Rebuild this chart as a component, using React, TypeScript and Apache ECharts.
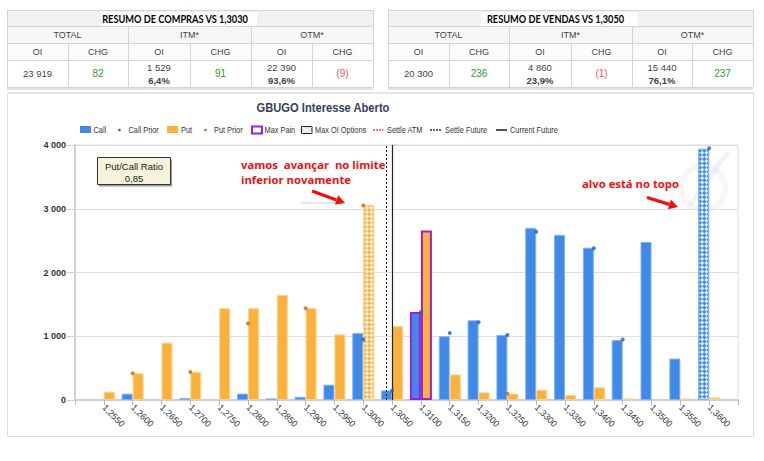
import React, { useEffect, useRef } from 'react';
import * as echarts from 'echarts';

// ---------- data ----------
const strikes = [1.255, 1.26, 1.265, 1.27, 1.275, 1.28, 1.285, 1.29, 1.295, 1.3, 1.305, 1.31, 1.315, 1.32, 1.325, 1.33, 1.335, 1.34, 1.345, 1.35, 1.355, 1.36];
const callOI = [0, 100, 0, 30, 0, 100, 25, 50, 240, 1050, 150, 1380, 1000, 1250, 1020, 2700, 2590, 2390, 940, 2480, 650, 3940];
const putOI = [130, 420, 900, 440, 1440, 1440, 1650, 1440, 1030, 3060, 1160, 2660, 400, 120, 100, 160, 80, 200, 25, 0, 25, 40];
const callPrior = [null, null, null, null, null, null, null, null, null, 950, 150, 1380, 1050, 1220, 1020, 2640, null, 2380, 950, null, null, 3950];
const putPrior = [null, 420, null, 440, null, 1200, null, 1440, null, 3050, null, null, null, null, 100, null, null, null, null, null, null, null];
const maxPainStrike = 1.31;
const maxOICallStrike = 1.36;
const maxOIPutStrike = 1.3;
const settleFuture = 1.305;
const currentFuture = 1.306;
const xMin = 1.25;
const xMax = 1.365;
const xStep = 0.005;
const yMax = 4000;
const yStep = 1000;
const putCallRatio = '0,85';

const tableGroups = ['TOTAL', 'ITM*', 'OTM*'];
const tableSubHeads = ['OI', 'CHG'];
const buyTitle = 'RESUMO DE COMPRAS VS 1,3030';
const buyOI = ['23 919', '1 529', '22 390'];
const buyPct = ['', '6,4%', '93,6%'];
const buyChg = ['82', '91', '(9)'];
const sellTitle = 'RESUMO DE VENDAS VS 1,3050';
const sellOI = ['20 300', '4 860', '15 440'];
const sellPct = ['', '23,9%', '76,1%'];
const sellChg = ['236', '(1)', '237'];

const legendNames = ['Call', 'Call Prior', 'Put', 'Put Prior', 'Max Pain', 'Max OI Options', 'Settle ATM', 'Settle Future', 'Current Future'];

// ---------- helpers ----------
const K = (s: number) => Math.round(s * 10000);
const CALL = '#3f89e8';
const PUT = '#fbb13c';
const FONT = "'Liberation Sans', Arial, sans-serif";

const txt = (x: number, y: number, text: string, font: string, fill: string, align = 'center', valign = 'middle', z = 10, scaleX = 1) => ({
  type: 'text', x, y, z, silent: true, scaleX,
  style: { text, font, fill, textAlign: align, textVerticalAlign: valign, align, verticalAlign: valign },
});
const rect = (x: number, y: number, w: number, h: number, style: any, z = 1) => ({
  type: 'rect', z, silent: true, shape: { x, y, width: w, height: h }, style,
});
const line = (x1: number, y1: number, x2: number, y2: number, style: any, z = 2) => ({
  type: 'line', z, silent: true, shape: { x1, y1, x2, y2 }, style,
});

const hatch = (color: string) => ({
  color,
  decal: {
    symbol: 'rect',
    symbolSize: 1,
    dashArrayX: [[2.5, 2.5], [0, 2.5, 2.5, 0]],
    dashArrayY: [2.5, 0],
    rotation: Math.PI / 4,
    color: 'rgba(255,255,255,0.85)',
  },
});

function buildTable(cols: number[], title: string, oi: string[], pct: string[], chg: string[]) {
  const rows = [10, 26, 43, 60, 87];
  const els: any[] = [];
  const fills = ['#f1f1f1', '#f6f6f6', '#fbfbfb', '#ffffff'];
  for (let r = 0; r < 4; r++) {
    els.push(rect(cols[0], rows[r], cols[6] - cols[0], rows[r + 1] - rows[r], { fill: fills[r] }, 1));
  }
  els.push(rect(cols[0], 88, cols[6] - cols[0], 2, { fill: '#e2e2e2' }, 1));
  const lc = { stroke: '#d4d4d4', lineWidth: 1 };
  rows.forEach((y) => els.push(line(cols[0], y + 0.5, cols[6], y + 0.5, lc)));
  [cols[0], cols[6]].forEach((x) => els.push(line(x + 0.5, rows[0], x + 0.5, rows[4], lc)));
  [cols[2], cols[4]].forEach((x) => els.push(line(x + 0.5, rows[1], x + 0.5, rows[4], lc)));
  [cols[1], cols[3], cols[5]].forEach((x) => els.push(line(x + 0.5, rows[2], x + 0.5, rows[4], lc)));
  const c = (cols[0] + cols[6]) / 2;
  els.push(rect(c - 89, 12, 156, 14, { fill: '#ffffff' }, 3));
  els.push(txt(c - 15, 18.5, title, "bold 10.5px Lato, 'Liberation Sans', sans-serif", '#000', 'center', 'middle', 10, 0.88));
  for (let g = 0; g < 3; g++) {
    const gx = (cols[g * 2] + cols[g * 2 + 2]) / 2;
    els.push(txt(gx, 35, tableGroups[g], `9px ${FONT}`, '#444'));
    const oiX = (cols[g * 2] + cols[g * 2 + 1]) / 2;
    const chX = (cols[g * 2 + 1] + cols[g * 2 + 2]) / 2;
    els.push(txt(oiX, 52, tableSubHeads[0], `9px ${FONT}`, '#444'));
    els.push(txt(chX, 52, tableSubHeads[1], `9px ${FONT}`, '#444'));
    if (pct[g]) {
      els.push(txt(oiX, 67.5, oi[g], `9.5px ${FONT}`, '#444'));
      els.push(txt(oiX, 80, pct[g], `bold 9.5px ${FONT}`, '#444'));
    } else {
      els.push(txt(oiX, 73.5, oi[g], `9.5px ${FONT}`, '#444'));
    }
    const neg = chg[g].startsWith('(');
    els.push(txt(chX, 73.5, chg[g], `10px ${FONT}`, neg ? '#f25555' : '#2e9b2e'));
  }
  return els;
}

function buildLegend() {
  const els: any[] = [];
  const y = 130;
  const lf = `9px ${FONT}`;
  const lt = (x: number, t: string) => txt(x, y, t, lf, '#333', 'left', 'middle', 10, 0.82);
  const textX = [93.5, 128.5, 181, 214, 264.5, 315, 387, 445, 510];
  els.push(rect(80, 126, 11, 7, { fill: CALL }, 10));
  els.push({ type: 'circle', z: 10, silent: true, shape: { cx: 119.5, cy: y, r: 1.3 }, style: { fill: '#1c5fc6' } });
  els.push(rect(167, 126, 11, 7, { fill: PUT }, 10));
  els.push({ type: 'circle', z: 10, silent: true, shape: { cx: 205.5, cy: y, r: 1.3 }, style: { fill: '#c06a0c' } });
  els.push(rect(252, 126.5, 10, 7, { fill: '#fff', stroke: '#9b1fe0', lineWidth: 2 }, 10));
  els.push(rect(301.5, 126.5, 10.5, 7, { fill: '#e4e4e4', stroke: '#222', lineWidth: 1 }, 10));
  els.push(line(302, 127, 311.5, 133, { stroke: '#fff', lineWidth: 1 }, 11));
  els.push(line(302, 133, 311.5, 127, { stroke: '#fff', lineWidth: 1 }, 11));
  els.push(line(373, y, 383.5, y, { stroke: '#ff4040', lineWidth: 1.5, lineDash: [2, 1] }, 10));
  els.push(line(430, y, 441, y, { stroke: '#333', lineWidth: 1.5, lineDash: [2, 1] }, 10));
  els.push(line(496, y, 507, y, { stroke: '#555', lineWidth: 2 }, 10));
  legendNames.forEach((n, i) => els.push(lt(textX[i], n)));
  return els;
}

function arrow(x1: number, y1: number, x2: number, y2: number) {
  const ang = Math.atan2(y2 - y1, x2 - x1);
  const hl = 9, hw = 5;
  const bx = x2 - hl * Math.cos(ang), by = y2 - hl * Math.sin(ang);
  const px = -Math.sin(ang) * hw, py = Math.cos(ang) * hw;
  return [
    line(x1, y1, bx, by, { stroke: '#f01010', lineWidth: 3.2 }, 12),
    { type: 'polygon', z: 12, silent: true, shape: { points: [[x2, y2], [bx + px, by + py], [bx - px, by - py]] }, style: { fill: '#f01010' } },
  ];
}

export default function App() {
  const ref = useRef<HTMLDivElement>(null);
  useEffect(() => {
    if (!ref.current) return;
    const chart = echarts.init(ref.current, null, { renderer: 'svg' });

    const callData = strikes
      .map((s, i) => {
        if (!callOI[i]) return null;
        const item: any = { value: [K(s), callOI[i]] };
        if (s === maxOICallStrike) item.itemStyle = hatch(CALL);
        if (s === maxPainStrike) item.itemStyle = { borderColor: '#9b1fe0', borderWidth: 2 };
        return item;
      })
      .filter(Boolean);
    const putData = strikes
      .map((s, i) => {
        if (!putOI[i]) return null;
        const item: any = { value: [K(s), putOI[i]] };
        if (s === maxOIPutStrike) item.itemStyle = hatch(PUT);
        if (s === maxPainStrike) item.itemStyle = { borderColor: '#9b1fe0', borderWidth: 2 };
        return item;
      })
      .filter(Boolean);
    const callPriorData = strikes.map((s, i) => (callPrior[i] == null ? null : [K(s), callPrior[i]])).filter(Boolean);
    const putPriorData = strikes.map((s, i) => (putPrior[i] == null ? null : [K(s), putPrior[i]])).filter(Boolean);

    const graphics: any[] = [
      rect(7.5, 93.5, 746, 343, { fill: 'none', stroke: '#dcdcdc', lineWidth: 1 }, 0),
      rect(7, 92, 747, 2, { fill: '#e6e6e6' }, 0),
      ...buildTable([7, 68, 128, 190, 251, 312, 373], buyTitle, buyOI, buyPct, buyChg),
      ...buildTable([388, 449, 509, 571, 632, 692, 753], sellTitle, sellOI, sellPct, sellChg),
      txt(323, 108, 'GBUGO Interesse Aberto', `bold 12px ${FONT}`, '#34405c', 'center', 'middle', 10, 0.93),
      ...buildLegend(),
      { type: 'ring', z: 0, silent: true, shape: { cx: 703, cy: 188, r: 25, r0: 19 }, style: { fill: 'rgba(205,215,228,0.22)' } },
      line(690, 205, 728, 152, { stroke: 'rgba(205,215,228,0.3)', lineWidth: 5 }, 0),
      // put/call ratio box
      rect(99, 159.5, 73, 27, { fill: '#999' }, 11),
      rect(97.5, 157.5, 73, 27, { fill: '#f6f3dc', stroke: '#333', lineWidth: 1 }, 12),
      txt(134, 166.5, 'Put/Call Ratio', `9.5px ${FONT}`, '#222', 'center', 'middle', 13),
      txt(134, 178, putCallRatio, `9.5px ${FONT}`, '#222', 'center', 'middle', 13),
      // annotations
      txt(241, 164.5, 'vamos  avançar  no limite', "bold 11.3px 'Open Sans', sans-serif", '#f01010', 'left', 'middle', 12),
      txt(241, 179.5, 'inferior novamente', "bold 11.3px 'Open Sans', sans-serif", '#f01010', 'left', 'middle', 12),
      line(301, 203, 345, 203, { stroke: '#cfcfcf', lineWidth: 1 }, 11),
      ...arrow(312, 191, 345, 203),
      txt(582, 183.5, 'alvo está no topo', "bold 11.3px 'Open Sans', sans-serif", '#f01010', 'left', 'middle', 12),
      ...arrow(647, 197.5, 678, 207),
    ];

    chart.setOption({
      animation: false,
      backgroundColor: '#fff',
      grid: {
        left: 75, right: 26, top: 145, bottom: 61,
        show: true, borderColor: '#dcdcdc', borderWidth: 1, backgroundColor: 'transparent',
        outerBoundsMode: 'none',
      },
      xAxis: {
        type: 'value',
        min: K(xMin), max: K(xMax), interval: K(xStep),
        splitLine: { show: false },
        axisLine: { show: true, lineStyle: { color: '#cfcfcf', width: 2 } },
        axisTick: { show: true, length: 5, lineStyle: { color: '#b5b5b5' } },
        axisLabel: {
          rotate: -45,
          margin: 6,
          fontSize: 9,
          fontFamily: FONT,
          color: '#333',
          formatter: (v: number) => (v <= K(xMin) || v >= K(xMax) ? '' : (v / 10000).toFixed(4).replace('.', ',')),
        },
      },
      yAxis: {
        type: 'value',
        min: 0, max: yMax, interval: yStep,
        axisLine: { show: true, lineStyle: { color: '#cfcfcf', width: 2 } },
        axisTick: { show: true, length: 8, lineStyle: { color: '#cfcfcf' } },
        splitLine: { show: true, lineStyle: { color: '#dedede' } },
        axisLabel: {
          margin: 9,
          fontSize: 9,
          fontWeight: 'bold',
          fontFamily: FONT,
          color: '#333',
          formatter: (v: number) => String(v).replace(/\B(?=(\d{3})+(?!\d))/g, ' '),
        },
      },
      series: [
        {
          name: 'Call', type: 'bar', barWidth: 11, barGap: '0%',
          itemStyle: { color: CALL, borderColor: '#80b2f0', borderWidth: 1 },
          data: callData,
          markLine: {
            silent: true, symbol: ['none', 'none'], label: { show: false },
            data: [
              { xAxis: K(settleFuture), lineStyle: { color: '#111', type: [2, 2], width: 1 } },
              { xAxis: K(currentFuture), lineStyle: { color: '#222', type: 'solid', width: 1.2 } },
            ],
          },
        },
        {
          name: 'Put', type: 'bar', barWidth: 11, barGap: '0%',
          itemStyle: { color: PUT, borderColor: '#fdd28e', borderWidth: 1 },
          data: putData,
        },
        { name: 'Call Prior', type: 'scatter', symbolSize: 4, z: 5, itemStyle: { color: '#1c5fc6' }, data: callPriorData },
        { name: 'Put Prior', type: 'scatter', symbolSize: 4, z: 5, itemStyle: { color: '#c06a0c' }, data: putPriorData },
      ],
      graphic: { elements: graphics },
    });
    return () => chart.dispose();
  }, []);
  return <div ref={ref} style={{ position: 'absolute', left: 0, top: 0, width: 764, height: 461 }} />;
}
